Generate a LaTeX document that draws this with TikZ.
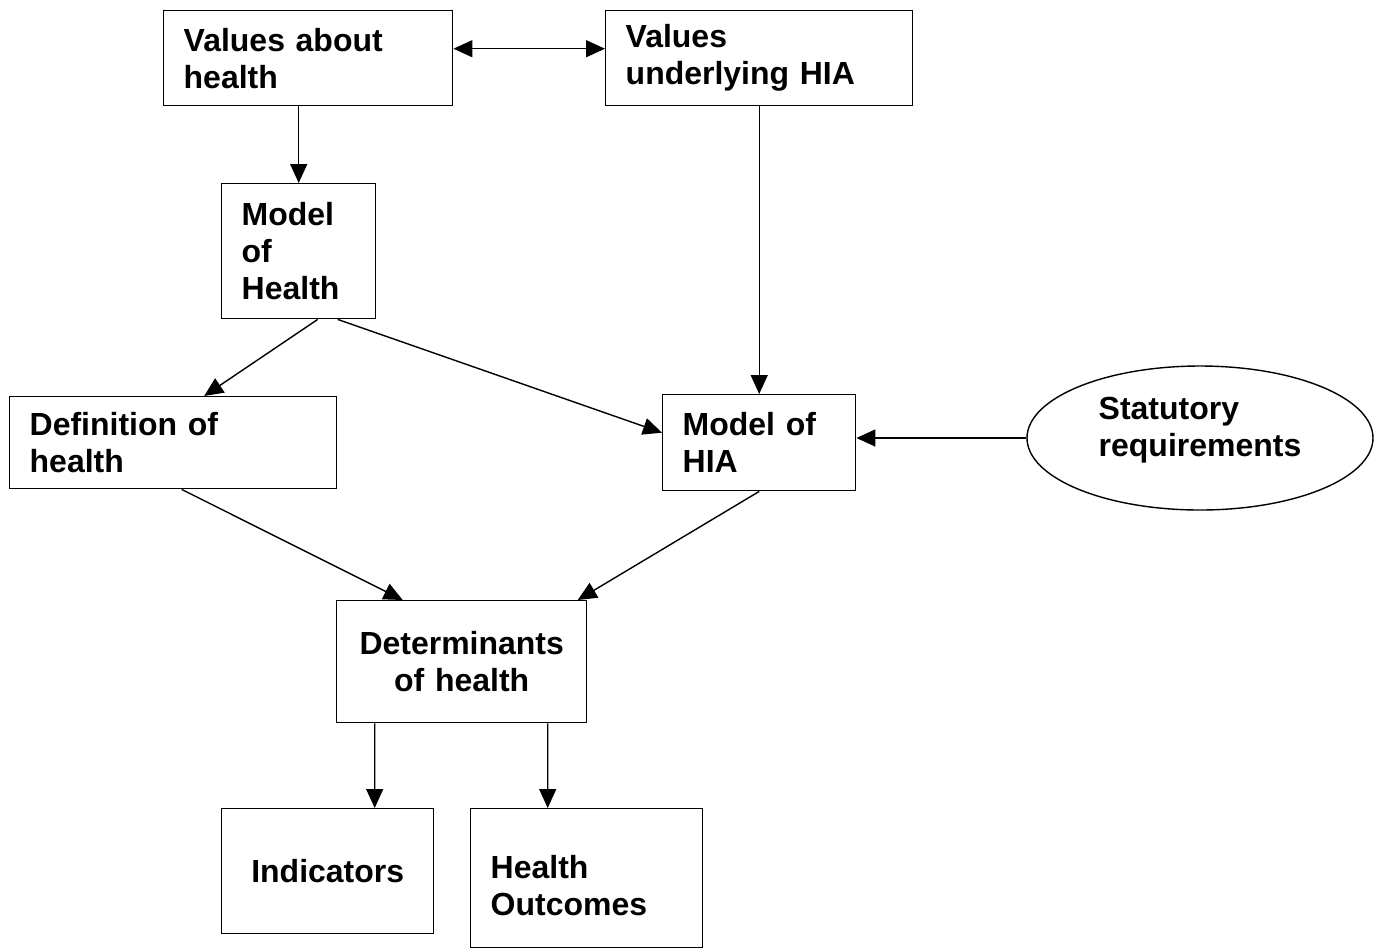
\documentclass[tikz,border=0pt]{standalone}
\usepackage{fontspec}
\setmainfont{Liberation Sans}
\usetikzlibrary{arrows.meta,shapes.geometric}

\begin{document}
\begin{tikzpicture}[
  box/.style={draw,line width=0.8pt,anchor=north west,inner xsep=0.4cm,inner ysep=0pt,align=left,font=\bfseries\fontsize{18.2}{21}\selectfont},
  oval/.style={draw,ellipse,line width=0.8pt,inner sep=0pt,minimum width=6.92cm,minimum height=2.88cm,align=left,font=\bfseries\fontsize{18.2}{21}\selectfont},
  >={Triangle[length=0.38cm,width=0.34cm]}
]
\useasboundingbox (0,0) rectangle (27.62,-18.98);

% boxes
\node[box,text width=4.98cm,minimum height=1.9cm] (vah) at (3.26,-0.20) {Values about\\health};
\node[box,text width=5.34cm,minimum height=1.9cm] (vuh) at (12.10,-0.20) {Values\\underlying HIA};
\node[box,text width=2.28cm,minimum height=2.7cm] (moh) at (4.42,-3.66) {Model\\of\\Health};
\node[box,text width=5.74cm,minimum height=1.84cm] (doh) at (0.18,-7.92) {Definition of\\health};
\node[box,text width=3.06cm,minimum height=1.92cm] (mhia) at (13.24,-7.88) {Model of\\HIA};
\node[oval,text depth=0.45cm] (stat) at (24.00,-8.76) {Statutory\\requirements};
\node[box,align=center,text width=4.2cm,minimum height=2.44cm] (det) at (6.72,-12.00) {Determinants\\of health};
\node[box,align=center,text width=3.44cm,minimum height=2.5cm] (ind) at (4.42,-16.16) {Indicators};
\node[box,text width=3.84cm,minimum height=2.78cm,text height=0.76cm] (hout) at (9.40,-16.16) {Health\\Outcomes};

% arrows
\path [->,line width=0.8pt]
  ([yshift=0.19cm]vah.east) edge [<->] ([yshift=0.19cm]vuh.west)
  (vah.south -| moh.north) edge (moh.north)
  (vuh.south -| mhia.north) edge (mhia.north)
  ([xshift=0.38cm]moh.south) edge ([xshift=0.62cm]doh.north)
  ([xshift=0.78cm]moh.south) edge ([yshift=0.2cm]mhia.west)
  (stat.west) edge (stat.west -| mhia.east)
  ([xshift=0.17cm]doh.south) edge ([xshift=-1.18cm]det.north)
  (mhia.south) edge ([xshift=2.32cm]det.north)
  ([xshift=-1.74cm]det.south) edge ([xshift=0.94cm]ind.north)
  ([xshift=1.72cm]det.south) edge ([xshift=-0.78cm]hout.north);
\end{tikzpicture}
\end{document}
